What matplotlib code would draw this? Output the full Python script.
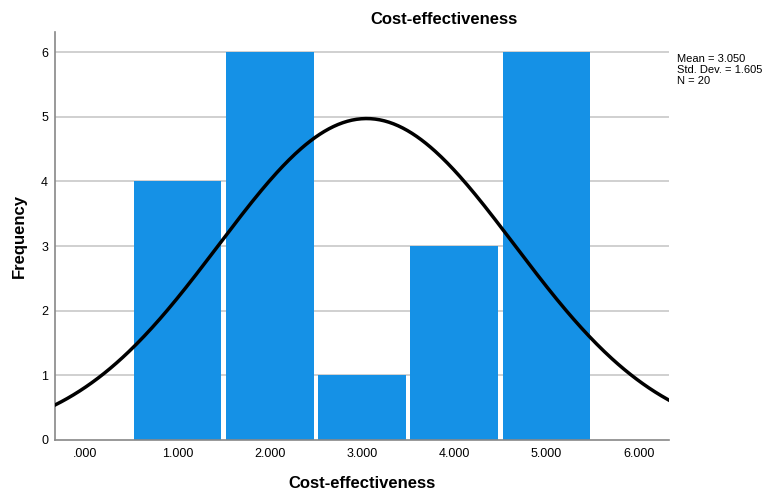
import numpy as np
import matplotlib
matplotlib.use("Agg")
import matplotlib.pyplot as plt

plt.rcParams['font.family'] = ['Liberation Sans', 'DejaVu Sans']

bin_centers = [1, 2, 3, 4, 5]
counts = [4, 6, 1, 3, 6]
mean = 3.050
sd = 1.605
n = 20
xticks = [0, 1, 2, 3, 4, 5, 6]
xticklabels = ['.000', '1.000', '2.000', '3.000', '4.000', '5.000', '6.000']
yticks = [0, 1, 2, 3, 4, 5, 6]

fig = plt.figure(figsize=(7.66, 4.91), dpi=100)
ax = fig.add_axes([55/766, 51/491, 614/766, 408/491])

ax.set_xlim(-0.33, 6.33)
ax.set_ylim(0, 6.31)

for y in yticks[1:]:
    ax.axhline(y, color='#c8c8c8', lw=1.2, zorder=0)

ax.bar(bin_centers, counts, width=0.95, color='#1591e6', linewidth=0, zorder=2)

xs = np.linspace(-0.33, 6.33, 400)
pdf = n * 1.0 * np.exp(-0.5 * ((xs - mean) / sd) ** 2) / (sd * np.sqrt(2 * np.pi))
ax.plot(xs, pdf, color='black', lw=2.5, zorder=3, clip_on=True)

ax.set_xticks(xticks)
ax.set_xticklabels(xticklabels, fontsize=9)
ax.set_yticks(yticks)
ax.set_yticklabels([str(v) for v in yticks], fontsize=9)
ax.tick_params(axis='x', length=0, pad=6)
ax.tick_params(axis='y', length=0, pad=5)

for s in ['top', 'right']:
    ax.spines[s].set_visible(False)
for s in ['left', 'bottom']:
    ax.spines[s].set_color('#888888')
    ax.spines[s].set_linewidth(1.2)

fig.text(444/766, 1 - 19/491, 'Cost-effectiveness', fontsize=12, fontweight='bold',
         ha='center', va='center')
ax.set_xlabel('Cost-effectiveness', fontsize=12, fontweight='bold', labelpad=11)
ax.set_ylabel('Frequency', fontsize=12, fontweight='bold', labelpad=10)

fig.text(677/766, 1 - 70/491, 'Mean = 3.050\nStd. Dev. = 1.605\nN = 20', fontsize=8,
         ha='left', va='center', linespacing=1.1)

fig.savefig('out.png', dpi=100)
